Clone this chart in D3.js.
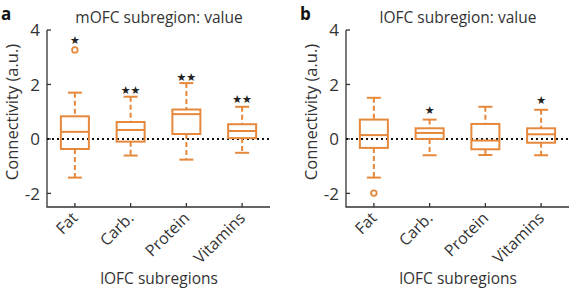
<!DOCTYPE html>
<html>
<head>
<meta charset="utf-8">
<script src="https://cdn.jsdelivr.net/npm/d3@7"></script>
<style>
  body { margin: 0; background: #fff; }
  text { font-family: "Open Sans", sans-serif; fill: #333; }
</style>
</head>
<body>
<svg id="chart" width="575" height="292"></svg>
<script>
// categories shared by both panels
var categories = ["Fat", "Carb.", "Protein", "Vitamins"];
var yTicks = [-2, 0, 2, 4];

// panel a: mOFC subregion, [whiskerLow, q1, median, q3, whiskerHigh]
var mofcStats = [
  [-1.42, -0.37, 0.26, 0.83, 1.70],
  [-0.61, -0.10, 0.33, 0.62, 1.55],
  [-0.76, 0.18, 0.91, 1.08, 2.05],
  [-0.51, 0.03, 0.29, 0.54, 1.18]
];
var mofcOutliers = [[3.27], [], [], []];
var mofcStars = ["★", "★★", "★★", "★★"];
var mofcStarY = [3.64, 1.80, 2.29, 1.46];

// panel b: lOFC subregion
var lofcStats = [
  [-1.42, -0.33, 0.14, 0.71, 1.51],
  [-0.60, 0.00, 0.22, 0.39, 0.71],
  [-0.59, -0.38, -0.06, 0.55, 1.18],
  [-0.60, -0.14, 0.17, 0.39, 1.07]
];
var lofcOutliers = [[-1.99], [], [], []];
var lofcStars = ["", "★", "", "★"];
var lofcStarY = [null, 1.07, null, 1.42];

var orange = "#e5883b";
var svg = d3.select("#chart");

function panel(x0, letter, title, stats, outliers, stars, starY) {
  var left = x0 + 47, right = x0 + 270;
  var x = d3.scaleBand().domain(categories).range([left, right]);
  var y = d3.scaleLinear().domain([-2.5, 4]).range([207, 30]);
  var base = y.range()[0];
  var g = svg.append("g");

  g.append("text").attr("x", x0 + 1).attr("y", 20)
    .style("font-weight", "bold").style("font-size", "17px").style("fill", "#111")
    .text(letter);
  g.append("text").attr("x", x0 + 159).attr("y", 23)
    .attr("text-anchor", "middle").style("font-size", "15.5px")
    .text(title);

  // axes
  g.append("path").attr("d", "M" + left + "," + y(4) + "V" + base + "H" + right)
    .attr("fill", "none").attr("stroke", "#333").attr("stroke-width", 1.3);
  yTicks.forEach(function (t) {
    g.append("line").attr("x1", left).attr("x2", left + 4).attr("y1", y(t)).attr("y2", y(t))
      .attr("stroke", "#333").attr("stroke-width", 1.3);
    g.append("text").attr("x", left - 7).attr("y", y(t)).attr("dy", "0.36em")
      .attr("text-anchor", "end").style("font-size", "17px").text(t);
  });
  categories.forEach(function (c) {
    var cx = x(c) + x.bandwidth() / 2;
    g.append("line").attr("x1", cx).attr("x2", cx).attr("y1", base).attr("y2", base - 4)
      .attr("stroke", "#333").attr("stroke-width", 1.3);
    g.append("text").attr("transform", "translate(" + (cx + 4) + "," + (base + 12) + ") rotate(-45)")
      .attr("text-anchor", "end").style("font-size", "16px").text(c);
  });

  g.append("text").attr("transform", "translate(" + (x0 + 18) + "," + 112 + ") rotate(-90)")
    .attr("text-anchor", "middle").style("font-size", "16.5px").text("Connectivity (a.u.)");
  g.append("text").attr("x", x0 + 159).attr("y", 284)
    .attr("text-anchor", "middle").style("font-size", "15.5px").text("lOFC subregions");

  // zero line
  g.append("line").attr("x1", left).attr("x2", right).attr("y1", y(0)).attr("y2", y(0))
    .attr("stroke", "#111").attr("stroke-width", 2).attr("stroke-dasharray", "2,3");

  // boxes
  categories.forEach(function (c, i) {
    var s = stats[i];
    var cx = x(c) + x.bandwidth() / 2;
    var bw = 28, cw = 14;
    g.append("line").attr("x1", cx).attr("x2", cx).attr("y1", y(s[4])).attr("y2", y(s[3]))
      .attr("stroke", orange).attr("stroke-width", 2).attr("stroke-dasharray", "5,3");
    g.append("line").attr("x1", cx).attr("x2", cx).attr("y1", y(s[1])).attr("y2", y(s[0]))
      .attr("stroke", orange).attr("stroke-width", 2).attr("stroke-dasharray", "5,3");
    [s[0], s[4]].forEach(function (v) {
      g.append("line").attr("x1", cx - cw / 2).attr("x2", cx + cw / 2).attr("y1", y(v)).attr("y2", y(v))
        .attr("stroke", orange).attr("stroke-width", 2);
    });
    g.append("rect").attr("x", cx - bw / 2).attr("y", y(s[3]))
      .attr("width", bw).attr("height", y(s[1]) - y(s[3]))
      .attr("fill", "none").attr("stroke", orange).attr("stroke-width", 2);
    g.append("line").attr("x1", cx - bw / 2).attr("x2", cx + bw / 2).attr("y1", y(s[2])).attr("y2", y(s[2]))
      .attr("stroke", orange).attr("stroke-width", 2);
    outliers[i].forEach(function (v) {
      g.append("circle").attr("cx", cx).attr("cy", y(v)).attr("r", 2.8)
        .attr("fill", "none").attr("stroke", orange).attr("stroke-width", 1.8);
    });
    if (stars[i]) {
      g.append("text").attr("x", cx).attr("y", y(starY[i])).attr("dy", "0.38em")
        .attr("text-anchor", "middle").style("font-family", "DejaVu Sans")
        .style("font-size", "11px").style("fill", "#222")
        .text(stars[i]);
    }
  });
}

panel(0, "a", "mOFC subregion: value", mofcStats, mofcOutliers, mofcStars, mofcStarY);
panel(299, "b", "lOFC subregion: value", lofcStats, lofcOutliers, lofcStars, lofcStarY);
</script>
</body>
</html>
